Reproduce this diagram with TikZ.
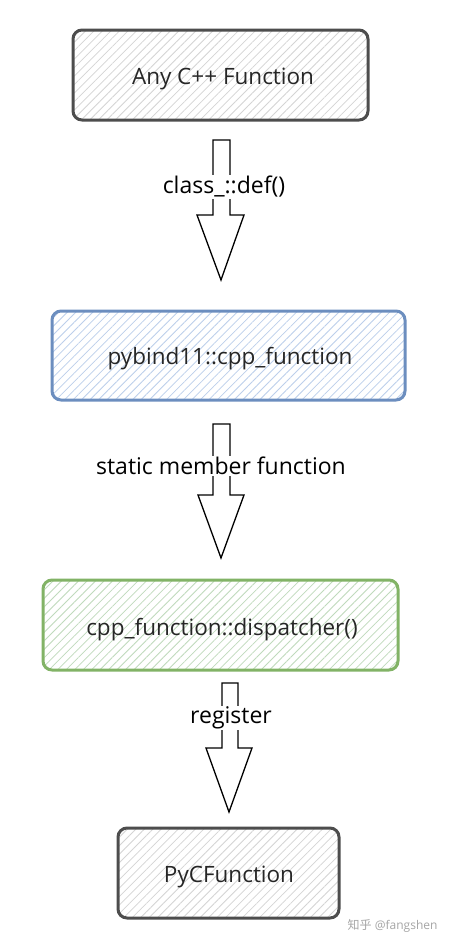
\documentclass[tikz,border=0pt]{standalone}
\usepackage{fontspec}
\setmainfont{Open Sans}
\newfontfamily\cjk{Noto Sans CJK SC}
\usetikzlibrary{patterns.meta,calc}
\definecolor{grayline}{HTML}{4D4D4D}
\definecolor{blueline}{HTML}{6C8EBF}
\definecolor{greenline}{HTML}{82B366}
\definecolor{grayhatch}{HTML}{D4D4D4}
\definecolor{bluehatch}{HTML}{BCCFEB}
\definecolor{greenhatch}{HTML}{BFDABC}
\begin{document}
\begin{tikzpicture}[x=1pt,y=-1pt,
  box/.style={draw=#1, line width=3pt, rounded corners=9pt},
  hatch/.style={pattern={Lines[angle=45,distance=6pt,line width=0.8pt]}, pattern color=#1, rounded corners=9pt},
  boxtext/.style={font=\fontsize{22.5}{26}\selectfont, text=black!85},
  lbl/.style={fill=white, inner sep=1pt, font=\fontsize{23}{26}\selectfont, text=black},
  blockarrow/.style={draw=black, line width=1.3pt, fill=white, line join=miter}]
\useasboundingbox (0,0) rectangle (451,948);
\fill[white] (0,0) rectangle (451,948);
% boxes
\fill[hatch=grayhatch] (73,30) rectangle (368,120);
\draw[box=grayline] (73,30) rectangle (368,120);
\node[boxtext] (b1) at (223,79) {Any C++ Function};
\fill[hatch=bluehatch] (52,311) rectangle (405,400);
\draw[box=blueline] (52,311) rectangle (405,400);
\node[boxtext] (b2) at (230,359) {pybind11::cpp\_function};
\fill[hatch=greenhatch] (43,580) rectangle (398,670);
\draw[box=greenline] (43,580) rectangle (398,670);
\node[boxtext] (b3) at (222,630) {cpp\_function::dispatcher()};
\fill[hatch=grayhatch] (118,828) rectangle (339,918);
\draw[box=grayline] (118,828) rectangle (339,918);
\node[boxtext] (b4) at (229,877) {PyCFunction};
% arrows
\coordinate (t1) at (221.5,140); \coordinate (p1) at (221,280);
\draw[blockarrow] ($(t1)+(-8.5,0)$) -- ($(t1)+(8.5,0)$) -- (230,215) -- (244,215) -- (p1) -- (197,215) -- (213,215) -- cycle;
\node[lbl] (l1) at (224,187) {class\_::def()};
\coordinate (t2) at (221.5,424); \coordinate (p2) at (221,558);
\draw[blockarrow] ($(t2)+(-8.5,0)$) -- ($(t2)+(8.5,0)$) -- (230,495) -- (244,495) -- (p2) -- (198,495) -- (213,495) -- cycle;
\node[lbl] (l2) at (221,466) {static member function};
\coordinate (t3) at (230,683); \coordinate (p3) at (229,812);
\draw[blockarrow] ($(t3)+(-8,0)$) -- ($(t3)+(8,0)$) -- (238,748) -- (252,748) -- (p3) -- (206,748) -- (222,748) -- cycle;
\node[lbl] (l3) at (231,718) {register};
% watermark
\node[text=black!35, font=\fontsize{12}{14}\selectfont, anchor=east] (wm) at (441,926) {{\cjk 知乎} @fangshen};
\end{tikzpicture}
\end{document}
